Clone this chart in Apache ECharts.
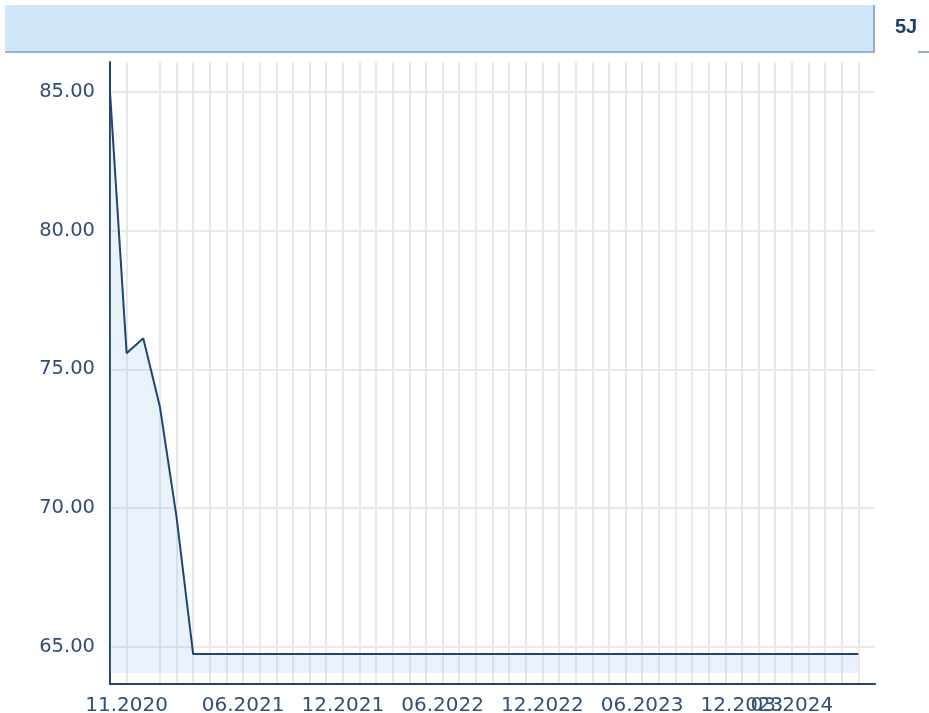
<!DOCTYPE html>
<html>
<head>
<meta charset="utf-8">
<title>5J</title>
<script src="https://cdn.jsdelivr.net/npm/echarts@6.0.0/dist/echarts.min.js"></script>
<style>
html, body { margin: 0; padding: 0; background: #fff; }
#chart { width: 929px; height: 713px; }
</style>
</head>
<body>
<div id="chart"></div>
<script>
// Monate (Kategorie-Achse)
var months = [
    '10.2020', '11.2020', '12.2020', '01.2021', '02.2021', '03.2021', '04.2021', '05.2021',
    '06.2021', '07.2021', '08.2021', '09.2021', '10.2021', '11.2021', '12.2021', '01.2022',
    '02.2022', '03.2022', '04.2022', '05.2022', '06.2022', '07.2022', '08.2022', '09.2022',
    '10.2022', '11.2022', '12.2022', '01.2023', '02.2023', '03.2023', '04.2023', '05.2023',
    '06.2023', '07.2023', '08.2023', '09.2023', '10.2023', '11.2023', '12.2023', '01.2024',
    '02.2024', '03.2024', '04.2024', '05.2024', '06.2024', '07.2024', '08.2024'
];
// Kurswerte
var prices = [
    85.00, 75.58, 76.12, 73.65, 69.68, 64.73, 64.73, 64.73,
    64.73, 64.73, 64.73, 64.73, 64.73, 64.73, 64.73, 64.73,
    64.73, 64.73, 64.73, 64.73, 64.73, 64.73, 64.73, 64.73,
    64.73, 64.73, 64.73, 64.73, 64.73, 64.73, 64.73, 64.73,
    64.73, 64.73, 64.73, 64.73, 64.73, 64.73, 64.73, 64.73,
    64.73, 64.73, 64.73, 64.73, 64.73, 64.73
];
// beschriftete Monate
var labelMonths = ['11.2020', '06.2021', '12.2021', '06.2022', '12.2022', '06.2023', '12.2023'];
// letzter Monat, ueberlappt mit 12.2023 (eigene Achse, sonst ausgeblendet)
var extraLabelMonths = ['03.2024'];
// Monate ohne senkrechte Gitterlinie
var noGridMonths = ['10.2020', '12.2020', '08.2024'];
// y-Achse
var yTicks = [65, 70, 75, 80, 85];
var yMin = 63.65;
var yMax = 86.08;
var areaBase = 64.05;

var labelColor = '#2e5077';
var lineColor = '#1d4672';
var labelFont = '"DejaVu Sans", Verdana, sans-serif';

var myChart = echarts.init(document.getElementById('chart'));

var xLabelStyle = {
    hideOverlap: false,
    color: labelColor,
    fontFamily: labelFont,
    fontSize: 20,
    margin: 12
};

myChart.setOption({
    animation: false,
    grid: {
        left: 110,
        right: 54,
        top: 62,
        bottom: 29,
        containLabel: false,
        outerBoundsMode: 'none'
    },
    graphic: [
        // Kopfleiste
        { type: 'rect', shape: { x: 5, y: 5, width: 869, height: 46 }, style: { fill: '#cfe5f8' } },
        { type: 'line', shape: { x1: 5, y1: 52, x2: 875, y2: 52 }, style: { stroke: '#94afc8', lineWidth: 2 } },
        { type: 'line', shape: { x1: 874, y1: 5, x2: 874, y2: 52 }, style: { stroke: '#94afc8', lineWidth: 2 } },
        { type: 'line', shape: { x1: 918, y1: 52, x2: 929, y2: 52 }, style: { stroke: '#94afc8', lineWidth: 2 } },
        {
            type: 'text',
            left: 895,
            top: 17,
            style: {
                text: '5J',
                fill: '#1c3f6e',
                font: 'bold 20px "Liberation Sans", Arial, sans-serif'
            }
        }
    ],
    xAxis: [
        {
            type: 'category',
            data: months,
            boundaryGap: false,
            axisLine: { show: true, lineStyle: { color: lineColor, width: 2 } },
            axisTick: { show: false },
            axisLabel: Object.assign({
                interval: function (index, value) {
                    return labelMonths.indexOf(value) !== -1;
                }
            }, xLabelStyle),
            splitLine: {
                show: true,
                interval: function (index, value) {
                    return noGridMonths.indexOf(value) === -1;
                },
                lineStyle: { color: '#e9e9e9', width: 2 }
            }
        },
        {
            type: 'category',
            data: months,
            position: 'bottom',
            boundaryGap: false,
            axisLine: { show: false },
            axisTick: { show: false },
            splitLine: { show: false },
            axisLabel: Object.assign({
                interval: function (index, value) {
                    return extraLabelMonths.indexOf(value) !== -1;
                }
            }, xLabelStyle)
        }
    ],
    yAxis: {
        type: 'value',
        min: yMin,
        max: yMax,
        splitNumber: 5,
        axisLine: { show: true, lineStyle: { color: lineColor, width: 2 } },
        axisTick: { show: false },
        axisLabel: {
            showMinLabel: false,
            showMaxLabel: false,
            color: labelColor,
            fontFamily: labelFont,
            fontSize: 19.5,
            margin: 15,
            formatter: function (v) {
                return yTicks.indexOf(Math.round(v * 100) / 100) !== -1 ? v.toFixed(2) : '';
            }
        },
        splitLine: {
            show: true,
            showMinLine: false,
            showMaxLine: false,
            lineStyle: { color: '#e9e9e9', width: 2 }
        }
    },
    series: [
        {
            type: 'line',
            data: prices,
            symbol: 'none',
            lineStyle: { color: lineColor, width: 2 },
            areaStyle: { origin: areaBase, color: 'rgba(150,195,235,0.3)' }
        }
    ]
});
</script>
</body>
</html>
